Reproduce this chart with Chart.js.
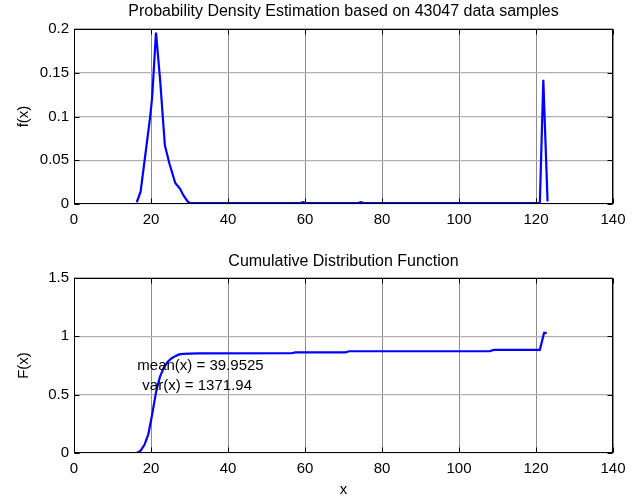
<!DOCTYPE html>
<html>
<head>
<meta charset="utf-8">
<script src="https://cdn.jsdelivr.net/npm/chart.js@4.4.0/dist/chart.umd.min.js"></script>
<style>
  body { margin: 0; background: #fff; }
  .plot { position: absolute; left: 0; }
</style>
</head>
<body>
<div class="plot" style="top:0"><canvas id="pdfChart" width="639" height="250"></canvas></div>
<div class="plot" style="top:250px"><canvas id="cdfChart" width="639" height="249"></canvas></div>
<script>
// density estimate f(x)
const xDens = [16.3, 17.3, 19.8, 20.3, 21.3, 22.4, 23.6, 24.8, 26.3, 27.6, 28.4, 29.5, 30.2,
               58.8, 59.5, 60.2, 73.8, 74.5, 75.2, 121.0, 121.9, 123.0];
const fDens = [0.002, 0.014, 0.1, 0.122, 0.196, 0.14, 0.067, 0.046, 0.024, 0.017, 0.01, 0.003, 0.001,
               0.001, 0.002, 0.001, 0.001, 0.002, 0.001, 0.001, 0.142, 0.003];

// cumulative F(x)
const xCdf = [16.3, 17.3, 18.3, 19.3, 20.3, 21.3, 22.3, 23.3, 24.3, 25.3, 26.3, 27.3, 28.3, 32,
              56.5, 57.5, 70.5, 71.5, 108, 109, 121, 122.1, 122.8];
const fCdf = [0, 0.02, 0.07, 0.16, 0.33, 0.52, 0.65, 0.73, 0.78, 0.81, 0.83, 0.845, 0.85, 0.854,
              0.855, 0.862, 0.863, 0.872, 0.872, 0.884, 0.884, 1.029, 1.029];

const xTicks = [0, 20, 40, 60, 80, 100, 120, 140];
const pdfTicks = [0, 0.05, 0.1, 0.15, 0.2];
const cdfTicks = [0, 0.5, 1, 1.5];

const statLines = ["mean(x) = 39.9525", "var(x) = 1371.94"];
const statPos = [[16.45, 0.745], [17.75, 0.575]];

const FONT = "'Liberation Sans', Arial, sans-serif";

// MATLAB style numbers: 0.2 not 0.20, 1 not 1.0
const fmt = v => String(parseFloat(Number(v).toFixed(4)));

// black frame with inward ticks on all four sides
const boxPlugin = {
  id: "box",
  afterDraw(chart) {
    const { ctx, chartArea: a, scales: { x, y } } = chart;
    const l = Math.round(a.left) + 0.5, r = Math.round(a.right) - 0.5;
    const t = Math.round(a.top) + 0.5, b = Math.round(a.bottom) - 0.5;
    ctx.save();
    ctx.strokeStyle = "#000";
    ctx.lineWidth = 1;
    ctx.strokeRect(l, t, r - l, b - t);
    ctx.beginPath();
    x.ticks.forEach(tk => {
      const px = Math.round(x.getPixelForValue(tk.value)) + 0.5;
      ctx.moveTo(px, b); ctx.lineTo(px, b - 5);
      ctx.moveTo(px, t); ctx.lineTo(px, t + 5);
    });
    y.ticks.forEach(tk => {
      const py = Math.round(y.getPixelForValue(tk.value)) + 0.5;
      ctx.moveTo(l, py); ctx.lineTo(l + 5, py);
      ctx.moveTo(r, py); ctx.lineTo(r - 5, py);
    });
    ctx.stroke();
    ctx.restore();
  }
};

const statsPlugin = {
  id: "stats",
  afterDatasetsDraw(chart, args, opts) {
    if (!opts.lines) return;
    const { ctx, scales: { x, y } } = chart;
    ctx.save();
    ctx.font = "15px " + FONT;
    ctx.fillStyle = "#000";
    ctx.textAlign = "left";
    ctx.textBaseline = "middle";
    opts.lines.forEach((txt, i) => {
      ctx.fillText(txt, x.getPixelForValue(opts.pos[i][0]), y.getPixelForValue(opts.pos[i][1]));
    });
    ctx.restore();
  }
};

const makeChart = (id, xs, ys, yMax, yTicks, title, yLabel, showXTitle, xHeight, titlePad, stats) => {
  const points = xs.map((v, i) => ({ x: v, y: ys[i] }));
  return new Chart(document.getElementById(id), {
    type: "scatter",
    data: {
      datasets: [{
        data: points,
        showLine: true,
        borderColor: "#0000ff",
        borderWidth: 2.2,
        pointRadius: 0,
        tension: 0
      }]
    },
    options: {
      responsive: false,
      animation: false,
      layout: { padding: { left: 0, right: 26, top: 0, bottom: 0 } },
      plugins: {
        legend: { display: false },
        tooltip: { enabled: false },
        title: {
          display: true,
          fullSize: false,
          text: title,
          color: "#000",
          font: { family: FONT, size: 16, weight: "normal" },
          padding: titlePad
        },
        stats: stats
      },
      scales: {
        x: {
          type: "linear",
          min: 0, max: 140,
          afterBuildTicks: s => { s.ticks = xTicks.map(v => ({ value: v })); },
          afterFit: s => { s.height = xHeight; },
          grid: { color: "#8c8c8c", lineWidth: 1, drawTicks: false },
          border: { display: false },
          ticks: { color: "#000", padding: 7, font: { family: FONT, size: 15 }, callback: fmt },
          title: {
            display: showXTitle,
            text: "x",
            color: "#000",
            font: { family: FONT, size: 15 },
            padding: { top: 0, bottom: 0 }
          }
        },
        y: {
          min: 0, max: yMax,
          afterBuildTicks: s => { s.ticks = yTicks.map(v => ({ value: v })); },
          afterFit: s => { s.width = 74; },
          grid: { color: "#b0b0b0", lineWidth: 1.3, drawTicks: false },
          border: { display: false },
          ticks: { color: "#000", padding: 5, font: { family: FONT, size: 15 }, callback: fmt },
          title: {
            display: true,
            text: yLabel,
            color: "#000",
            font: { family: FONT, size: 15 },
            padding: { top: 15, bottom: 0 }
          }
        }
      }
    },
    plugins: [boxPlugin, statsPlugin]
  });
};

makeChart("pdfChart", xDens, fDens, 0.2, pdfTicks,
  "Probability Density Estimation based on 43047 data samples", "f(x)", false, 46,
  { top: 2, bottom: 7.8 }, {});

makeChart("cdfChart", xCdf, fCdf, 1.5, cdfTicks,
  "Cumulative Distribution Function", "F(x)", true, 46,
  { top: 2, bottom: 6.8 }, { lines: statLines, pos: statPos });
</script>
</body>
</html>
